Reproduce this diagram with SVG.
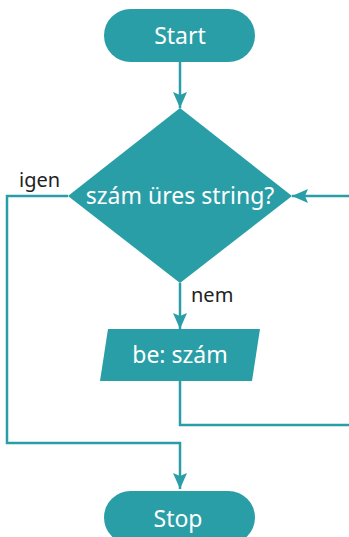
<svg xmlns="http://www.w3.org/2000/svg" width="349" height="537" viewBox="0 0 349 537">
<defs>
<style>
.n{fill:#299ea7}
.t{fill:#ffffff;font-family:"Noto Sans",sans-serif;font-size:23px;text-anchor:middle}
.l{fill:#222222;font-family:"Noto Sans",sans-serif;font-size:20px}
.c{fill:none;stroke:#299ea7;stroke-width:2.5}
</style>
<marker id="a" viewBox="0 0 16 14" refX="16" refY="7" markerWidth="16" markerHeight="14" orient="auto" markerUnits="userSpaceOnUse"><path d="M0,0L16,7L0,14L3,7z" fill="#299ea7"/></marker>
</defs>
<rect width="349" height="537" fill="#ffffff"/>
<g id="connectors">
<path class="c" d="M180,62V108" marker-end="url(#a)"/>
<path class="c" d="M68,196H7V443H180V489" marker-end="url(#a)"/>
<path class="c" d="M180,283V329" marker-end="url(#a)"/>
<path class="c" d="M180,381V425H349"/>
<path class="c" d="M349,196H292" marker-end="url(#a)"/>
</g>
<g id="start"><rect class="n" x="104" y="9" width="151" height="53" rx="26.5"/><text class="t" x="180" y="44">Start</text></g>
<g id="decision"><path class="n" d="M180,108L292,196L180,283L68,196Z"/><text class="t" x="180" y="204">szám üres string?</text></g>
<g id="input"><path class="n" d="M108,329H260L252,381H100Z"/><text class="t" x="180" y="363">be: szám</text></g>
<g id="stop"><rect class="n" x="104" y="491" width="151" height="53" rx="26.5"/><text class="t" x="178" y="527">Stop</text></g>
<text class="l" x="19" y="187">igen</text>
<text class="l" x="191" y="302">nem</text>
</svg>
